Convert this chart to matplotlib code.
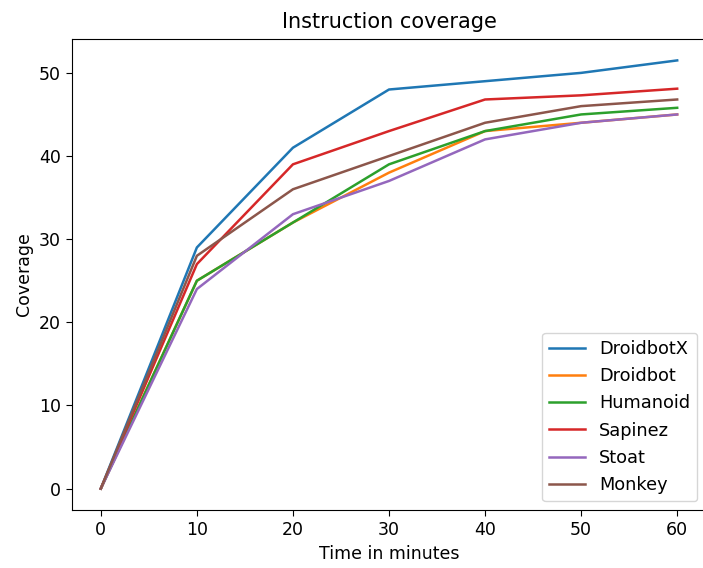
import matplotlib
matplotlib.use("Agg")
import matplotlib.pyplot as plt

# --- data ---
minutes = [0, 10, 20, 30, 40, 50, 60]
droidbotx = [0, 29, 41, 48, 49, 50, 51.5]
droidbot = [0, 25, 32, 38, 43, 44, 45]
humanoid = [0, 25, 32, 39, 43, 45, 45.8]
sapinez = [0, 27, 39, 43, 46.8, 47.3, 48.1]
stoat = [0, 24, 33, 37, 42, 44, 45]
monkey = [0, 28, 36, 40, 44, 46, 46.8]

series = [
    ("DroidbotX", droidbotx),
    ("Droidbot", droidbot),
    ("Humanoid", humanoid),
    ("Sapinez", sapinez),
    ("Stoat", stoat),
    ("Monkey", monkey),
]

fig = plt.figure(figsize=(7.03, 5.68), dpi=100)
# axes runs slightly past the right edge, like the cropped reference
ax = fig.add_axes([72 / 703, 1 - 510 / 568, 634 / 703, 471 / 568])

for name, vals in series:
    ax.plot(minutes, vals, lw=1.8, label=name)

ax.set_title("Instruction coverage", fontsize=15, pad=8)
ax.set_xlabel("Time in minutes", fontsize=12.5)
ax.set_ylabel("Coverage", fontsize=12.5)
ax.tick_params(labelsize=12.5, length=4.5)
ax.legend(loc="lower right", fontsize=12.8, labelspacing=0.52,
          borderaxespad=0.5)

fig.savefig("out.png", dpi=100)
